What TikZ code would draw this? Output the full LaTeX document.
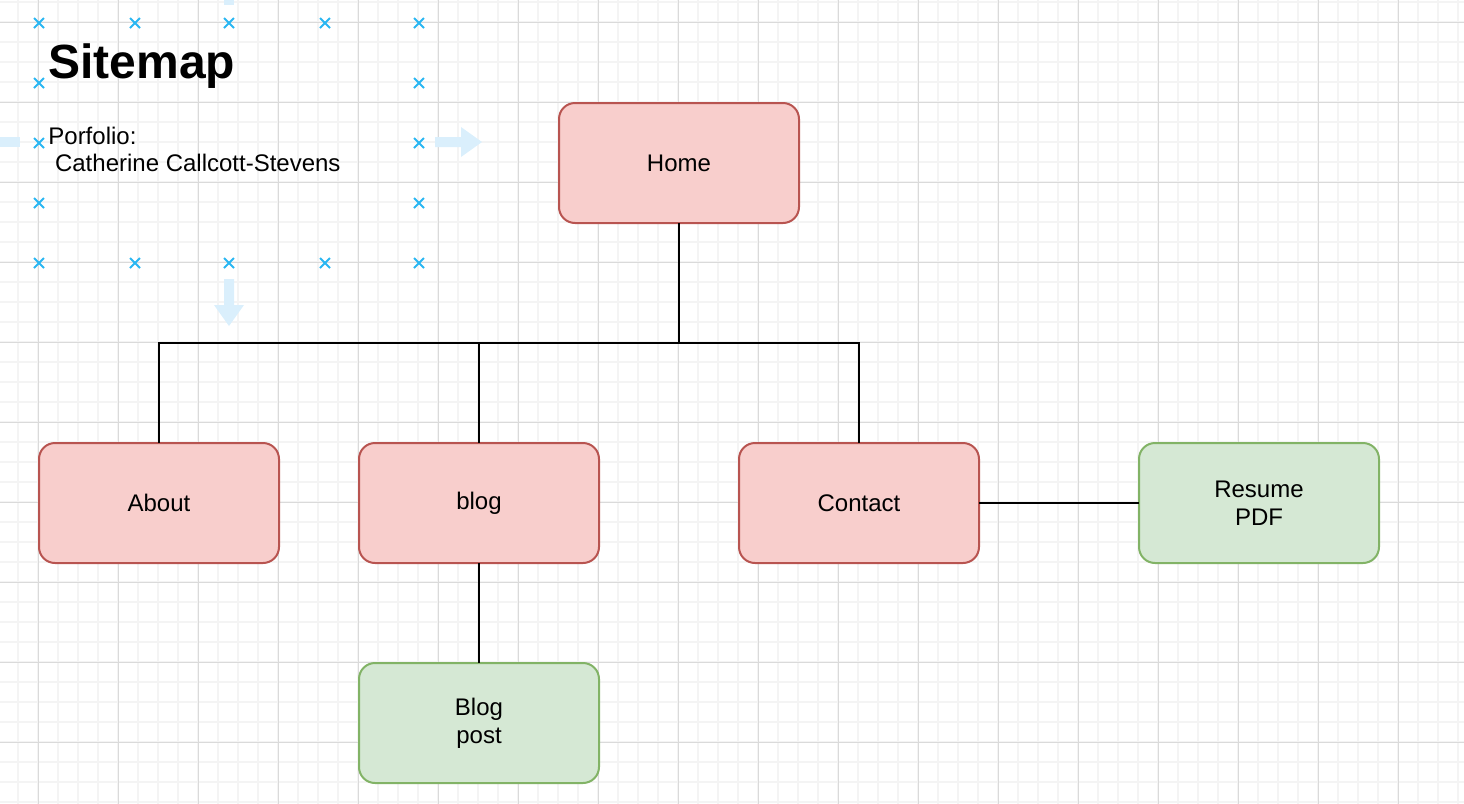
\documentclass[tikz,border=0pt]{standalone}
\usepackage{fontspec}
\setmainfont{Liberation Sans}
\usetikzlibrary{positioning}
\definecolor{pinkfill}{HTML}{F8CECC}
\definecolor{pinkline}{HTML}{B85450}
\definecolor{greenfill}{HTML}{D5E8D4}
\definecolor{greenline}{HTML}{82B366}
\definecolor{gridminor}{HTML}{F4F4F4}
\definecolor{gridmajor}{HTML}{DADADA}
\definecolor{handleblue}{HTML}{29B6F2}
\definecolor{hoverblue}{HTML}{DAEFFC}
\tikzset{
    %Define style for pages
    pagebox/.style={
           rectangle,
           rounded corners=8pt,
           draw=pinkline, fill=pinkfill,
           line width=1pt,
           outer sep=0pt,
           minimum width=120pt,
           minimum height=60pt,
           align=center,
           font=\fontsize{12}{14}\selectfont},
    subbox/.style={
           pagebox,
           draw=greenline, fill=greenfill},
    % Define connector style
    link/.style={
           line width=1pt,
           black},
    %Selection handle
    handle/.pic={
           \draw[handleblue, line width=1pt] (-5,-5) -- (5,5) (-5,5) -- (5,-5);}
}
\begin{document}
\begin{tikzpicture}[x=0.5pt,y=-0.5pt]
\useasboundingbox (0,0) rectangle (1464,804);
 %grid
\foreach \x in {18,38,...,1458} \draw[gridminor, line width=1pt] (\x,0) -- (\x,804);
\foreach \y in {2,22,...,802} \draw[gridminor, line width=1pt] (0,\y) -- (1464,\y);
\foreach \x in {38,118,...,1438} \draw[gridmajor, line width=0.5pt] (\x,0) -- (\x,804);
\foreach \y in {22,102,...,742} \draw[gridmajor, line width=0.5pt] (0,\y) -- (1464,\y);

 %hover arrows
\fill[hoverblue] (224,0) rectangle (234,5);
\fill[hoverblue] (0,137) rectangle (20,147);
\fill[hoverblue] (435,137) -- (461,137) -- (461,127) -- (482,142) -- (461,157) -- (461,147) -- (435,147) -- cycle;
\fill[hoverblue] (224,279) -- (234,279) -- (234,305) -- (244,305) -- (229,326) -- (214,305) -- (224,305) -- cycle;

 %handles
\foreach \hx in {39,135,229,325,419} {
    \pic at (\hx,23) {handle};
    \pic at (\hx,263) {handle};
}
\foreach \hy in {83,143,203} {
    \pic at (39,\hy) {handle};
    \pic at (419,\hy) {handle};
}

 %texts
\node[anchor=west, inner sep=0pt, font=\fontsize{24}{28}\selectfont\bfseries] (title) at (48,66) {Sitemap};
\node[anchor=north west, inner sep=0pt, align=left, font=\fontsize{12}{13.5}\selectfont] (owner) at (48,127) {Porfolio:\\\hskip0.278em Catherine Callcott-Stevens};

 %nodes
\node[pagebox] (home) at (679,163) {Home};
\node[pagebox] (about) at (159,503) {About};
\node[pagebox] (blog) at (479,503) {blog};
\node[pagebox] (contact) at (859,503) {Contact};
\node[subbox, right=80pt of contact] (resume) {Resume\\PDF};
\node[subbox, below=50pt of blog] (blogpost) {Blog\\post};
\coordinate (split) at (679,343);

 %connectors
\draw[link] (home) -- (split);
\draw[link] (split) -| (about.north);
\draw[link] (split) -| (blog.north);
\draw[link] (split) -| (contact.north);
\path[link]
    (contact) edge (resume)
    (blog) edge (blogpost);

\end{tikzpicture}
\end{document}
